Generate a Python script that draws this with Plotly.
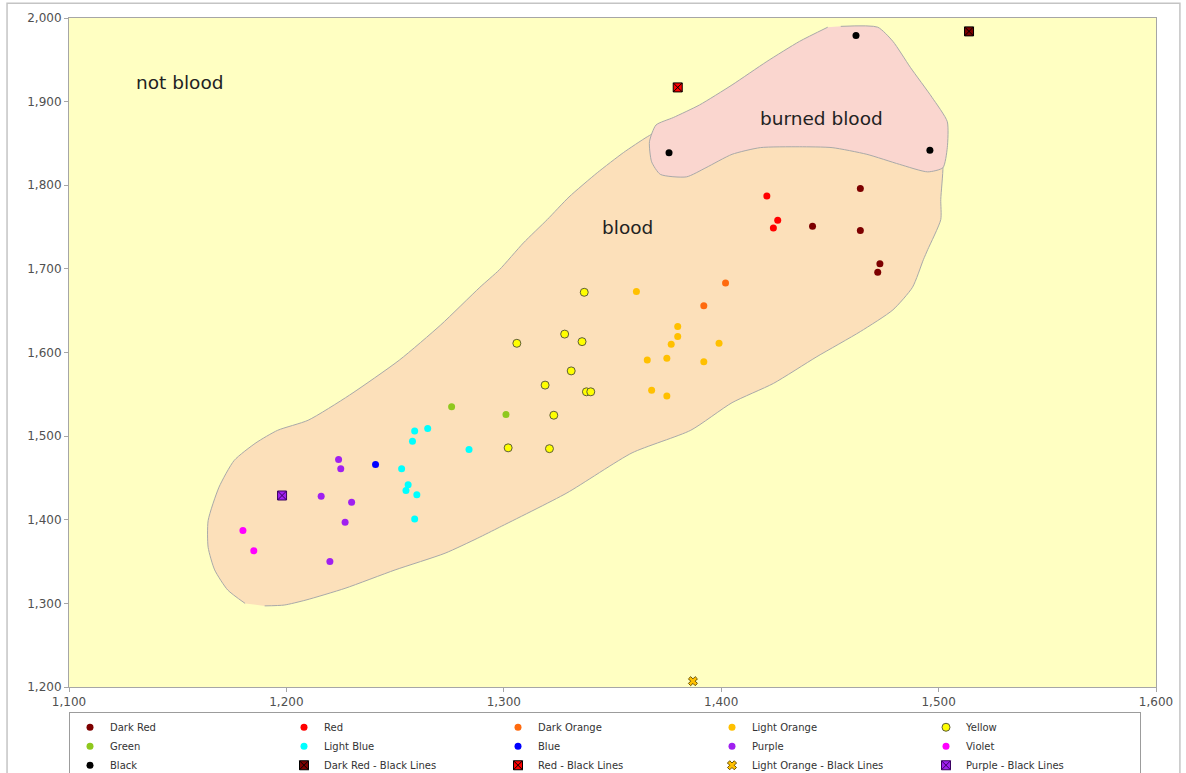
import plotly.graph_objects as go

# ---- measured points per colour class ----
dark_red_x = [1464, 1442, 1464, 1473, 1472]
dark_red_y = [1796, 1751, 1746, 1706, 1696]
red_x = [1421, 1426, 1424]
red_y = [1787, 1758, 1749]
dark_orange_x = [1402, 1392]
dark_orange_y = [1683, 1656]
light_orange_x = [1361, 1380, 1380, 1377, 1366, 1375, 1399, 1392, 1368, 1375]
light_orange_y = [1673, 1631, 1619, 1610, 1591, 1593, 1611, 1589, 1555, 1548]
yellow_x = [1337, 1328, 1336, 1306, 1331, 1319, 1338, 1340, 1323, 1302, 1321]
yellow_y = [1672, 1622, 1613, 1611, 1578, 1561, 1553, 1553, 1525, 1486, 1485]
green_x = [1276, 1301]
green_y = [1535, 1526]
light_blue_x = [1259, 1265, 1258, 1284, 1253, 1256, 1255, 1260, 1259]
light_blue_y = [1506, 1509, 1494, 1484, 1461, 1442, 1435, 1430, 1401]
blue_x = [1241]
blue_y = [1466]
purple_x = [1224, 1225, 1216, 1230, 1227, 1220]
purple_y = [1472, 1461, 1428, 1421, 1397, 1350]
violet_x = [1180, 1185]
violet_y = [1387, 1363]
black_x = [1462, 1376, 1496]
black_y = [1979, 1839, 1842]
dark_red_bl_x = [1514]
dark_red_bl_y = [1984]
red_bl_x = [1380]
red_bl_y = [1917]
light_orange_bl_x = [1387]
light_orange_bl_y = [1207]
purple_bl_x = [1198]
purple_bl_y = [1429]

# ---- region outlines ----
blood_x = [1181, 1173, 1167, 1164, 1164, 1169, 1176, 1186, 1196, 1210, 1229, 1252,
           1271, 1289, 1298, 1309, 1320, 1330, 1343, 1355, 1366, 1376, 1390, 1436,
           1482, 1501, 1502, 1501, 1501, 1495, 1493, 1488, 1479, 1464, 1444, 1424,
           1405, 1386, 1359, 1329, 1298, 1288, 1273, 1250, 1227, 1209, 1199, 1190]
blood_y = [1300, 1316, 1340, 1367, 1399, 1439, 1471, 1492, 1507, 1519, 1549, 1591,
           1633, 1678, 1699, 1731, 1759, 1786, 1815, 1839, 1858, 1872, 1890, 1902,
           1878, 1843, 1822, 1783, 1759, 1723, 1711, 1678, 1651, 1625, 1595, 1563,
           1540, 1507, 1480, 1432, 1391, 1378, 1360, 1340, 1318, 1304, 1298, 1297]
burned_x = [1455, 1472, 1479, 1487, 1497, 1504, 1504, 1502, 1495, 1482, 1467, 1451,
            1436, 1418, 1405, 1393, 1384, 1372, 1368, 1367, 1370, 1378, 1390, 1405,
            1421, 1436, 1449]
burned_y = [1990, 1989, 1972, 1941, 1905, 1876, 1845, 1821, 1816, 1825, 1837, 1845,
            1846, 1845, 1837, 1821, 1810, 1813, 1828, 1852, 1872, 1881, 1896, 1920,
            1948, 1972, 1989]

region_names = ["not blood", "blood", "burned blood"]
region_label_x = [1151, 1357, 1446]
region_label_y = [1923, 1750, 1880]

x_ticks = [1100, 1200, 1300, 1400, 1500, 1600]
y_ticks = [1200, 1300, 1400, 1500, 1600, 1700, 1800, 1900, 2000]

series = [
    ("Dark Red", dark_red_x, dark_red_y, "#7d0000", "circle", 7, "#7d0000", 0),
    ("Red", red_x, red_y, "#ff0000", "circle", 7, "#ff0000", 0),
    ("Dark Orange", dark_orange_x, dark_orange_y, "#ff6a0e", "circle", 7, "#ff6a0e", 0),
    ("Light Orange", light_orange_x, light_orange_y, "#ffc000", "circle", 7, "#ffc000", 0),
    ("Yellow", yellow_x, yellow_y, "#ffff00", "circle", 8, "#5e5e3a", 1),
    ("Green", green_x, green_y, "#8fc81e", "circle", 7, "#8fc81e", 0),
    ("Light Blue", light_blue_x, light_blue_y, "#00ffff", "circle", 7, "#00ffff", 0),
    ("Blue", blue_x, blue_y, "#0000ff", "circle", 7, "#0000ff", 0),
    ("Purple", purple_x, purple_y, "#a020f0", "circle", 7, "#a020f0", 0),
    ("Violet", violet_x, violet_y, "#ff00ff", "circle", 7, "#ff00ff", 0),
    ("Black", black_x, black_y, "#000000", "circle", 7, "#000000", 0),
    ("Dark Red - Black Lines", dark_red_bl_x, dark_red_bl_y, "#7d0000", "square-x", 9, "#000000", 1),
    ("Red - Black Lines", red_bl_x, red_bl_y, "#ff0000", "square-x", 9, "#000000", 1),
    ("Light Orange - Black Lines", light_orange_bl_x, light_orange_bl_y, "#ffc000", "x", 8, "#6b5200", 1),
    ("Purple - Black Lines", purple_bl_x, purple_bl_y, "#a020f0", "square-x", 9, "#3a0060", 1),
]

fig = go.Figure()

# classification regions
fig.add_trace(go.Scatter(
    x=blood_x, y=blood_y, mode="lines", fill="toself",
    fillcolor="#fce0ba", line=dict(color="#a9a9a9", width=1, shape="spline", smoothing=0.6),
    showlegend=False, hoverinfo="skip"))
fig.add_trace(go.Scatter(
    x=burned_x, y=burned_y, mode="lines", fill="toself",
    fillcolor="#fad6cf", line=dict(color="#a9a9a9", width=1, shape="spline", smoothing=0.6),
    showlegend=False, hoverinfo="skip"))

for name, xs, ys, color, symbol, size, lcolor, lwidth in series:
    fig.add_trace(go.Scatter(
        x=xs, y=ys, mode="markers", name=name,
        marker=dict(color=color, symbol=symbol, size=size,
                    line=dict(color=lcolor, width=lwidth)),
        cliponaxis=False))

for text, lx, ly in zip(region_names, region_label_x, region_label_y):
    fig.add_annotation(x=lx, y=ly, text=text, showarrow=False,
                       font=dict(family="DejaVu Sans", size=18.5, color="#222222"))

# outer frame around the whole chart
fig.add_shape(type="rect", xref="paper", yref="paper",
              x0=-0.057, x1=1.022, y0=-0.13, y1=1.022,
              line=dict(color="#c4c4c4", width=1.5), layer="below")

axis_common = dict(
    showgrid=False, zeroline=False, showline=True, mirror=True,
    linecolor="#a6a6a6", linewidth=1, ticks="outside", ticklen=4,
    tickcolor="#a6a6a6", tickformat=",",
    tickfont=dict(family="DejaVu Sans", size=12, color="#505050"),
)

fig.update_layout(
    width=1186, height=773, autosize=False,
    margin=dict(l=69, r=30, t=18, b=86, autoexpand=False),
    paper_bgcolor="white", plot_bgcolor="#ffffc2",
    xaxis=dict(range=[1100, 1600], tickvals=x_ticks, **axis_common),
    yaxis=dict(range=[1200, 2000], tickvals=y_ticks, **axis_common),
    legend=dict(
        orientation="h", x=0, xanchor="left", y=-0.037, yanchor="top",
        entrywidth=169, entrywidthmode="pixels",
        bgcolor="white", bordercolor="#9c9c9c", borderwidth=1,
        font=dict(family="DejaVu Sans", size=10, color="#333333"),
        traceorder="normal",
    ),
    showlegend=True,
)

fig.write_html("out.html")
